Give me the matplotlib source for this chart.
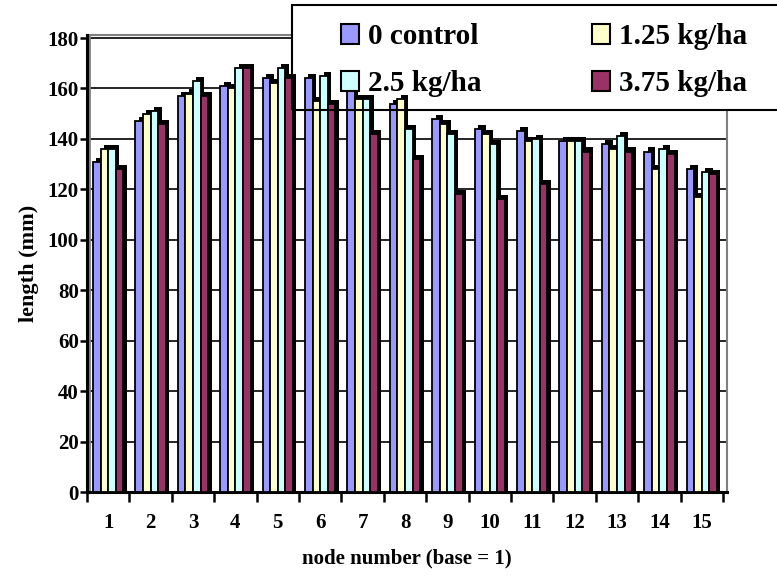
import numpy as np
import matplotlib
matplotlib.use("Agg")
import matplotlib.pyplot as plt
from matplotlib.patches import Rectangle, Patch

plt.rcParams['font.family'] = ['Liberation Serif', 'DejaVu Serif']
plt.rcParams['font.weight'] = 'bold'

# data (internode length, mm)
nodes = [str(i) for i in range(1, 16)]
series_names = ['0 control', '1.25 kg/ha', '2.5 kg/ha', '3.75 kg/ha']
control = [131, 147, 157, 161, 164, 164, 159, 154, 148, 144, 143, 139, 138, 135, 128]
kg125 = [136, 150, 158, 160, 162, 155, 156, 156, 146, 142, 139, 139, 136, 128, 117]
kg25 = [136, 151, 163, 168, 168, 165, 156, 144, 142, 138, 140, 139, 141, 136, 127]
kg375 = [128, 146, 157, 168, 164, 154, 142, 132, 118, 116, 122, 135, 135, 134, 126]
colors = ['#9999FF', '#FFFFCC', '#CCFFFF', '#993366']
yticks = list(range(0, 181, 20))

all_series = [control, kg125, kg25, kg375]

fig = plt.figure(figsize=(7.77, 5.77), dpi=100)
ax = fig.add_axes([87/777, 1-492/577, (727-87)/777, (492-35)/577])

x = np.arange(len(nodes))
w = 0.18
dx, dy = 0.08, 1.6   # fake 3d depth (black shadow)

# shadows first, then the faces on top
for i, vals in enumerate(all_series):
    pos = x + (i - 1.5) * w
    ax.bar(pos + dx, np.array(vals) + dy, width=w, color='black', zorder=3)
for i, vals in enumerate(all_series):
    pos = x + (i - 1.5) * w
    ax.bar(pos, vals, width=w, color=colors[i], edgecolor='black',
           linewidth=1.3, zorder=4)

ax.set_xlim(-0.5, 14.594)
ax.set_ylim(0, 181.2)
for t in yticks[1:]:
    ax.axhline(t, color='black', lw=1.2, zorder=1)
ax.axvline(-0.45, color='#808080', lw=2, zorder=1)

ax.set_yticks(yticks)
ax.set_xticks(x)
ax.set_xticklabels(nodes)
ax.set_xticks(np.arange(-0.5, 15, 1), minor=True)
ax.tick_params(axis='y', direction='out', length=5, width=1.8, labelsize=15, pad=1)
ax.tick_params(axis='x', which='major', length=0, labelsize=15, pad=15)
ax.tick_params(axis='x', which='minor', direction='out', length=7, width=1.8)

for s in ['top', 'right']:
    ax.spines[s].set_color('#808080')
    ax.spines[s].set_linewidth(1.5)
    ax.spines[s].set_zorder(1)
ax.spines['left'].set_linewidth(2.2)
ax.spines['bottom'].set_linewidth(2.2)

ax.set_ylabel('length (mm)', fontsize=16, fontweight='bold', labelpad=6)
ax.set_xlabel('node number (base = 1)', fontsize=15, fontweight='bold', labelpad=11)

# legend box: white fill sits under the bars, its border on top
box = (292/777, 1-110/577)
box_w, box_h = (800-292)/777, 105/577
ax.add_patch(Rectangle(box, box_w, box_h, transform=fig.transFigure,
                       facecolor='white', edgecolor='none', clip_on=False, zorder=2))
fig.patches.append(Rectangle(box, box_w, box_h, transform=fig.transFigure,
                             fill=False, ec='black', lw=1.5, zorder=10))
handles = [Patch(facecolor=c, edgecolor='black', linewidth=1.5) for c in colors]
order = [0, 2, 1, 3]
fig.legend([handles[k] for k in order], [series_names[k] for k in order],
           ncol=2, loc='center', bbox_to_anchor=(544/777, 1-60/577),
           frameon=False, fontsize=21, handlelength=0.62, handleheight=0.7,
           handletextpad=0.3, columnspacing=3.8, labelspacing=0.68,
           borderaxespad=0)

fig.savefig('out.png', dpi=100)
